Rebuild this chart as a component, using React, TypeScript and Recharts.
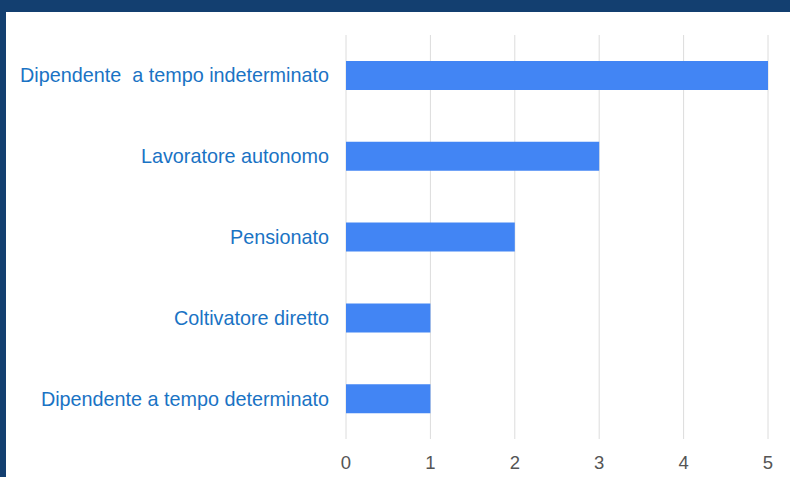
import React from 'react';
import { BarChart, Bar, XAxis, YAxis, CartesianGrid } from 'recharts';

const categories = [
  'Dipendente  a tempo indeterminato',
  'Lavoratore autonomo',
  'Pensionato',
  'Coltivatore diretto',
  'Dipendente a tempo determinato',
];
const counts = [5, 3, 2, 1, 1];
const xTicks = [0, 1, 2, 3, 4, 5];

const data = categories.map((c, i) => ({ name: c, value: counts[i] }));

const YTick = (props: any) => {
  const { x, y, payload } = props;
  return (
    <text
      x={x}
      y={y}
      dy="0.35em"
      textAnchor="end"
      fill="#1a73c4"
      fontSize={19.8}
      fontFamily="Liberation Sans, Arial, sans-serif"
      style={{ whiteSpace: 'pre' }}
    >
      {payload.value}
    </text>
  );
};

export default function App() {
  return (
    <div
      style={{
        position: 'fixed',
        left: 0,
        top: 0,
        width: 790,
        height: 477,
        background: '#133f70',
        overflow: 'hidden',
      }}
    >
      <div style={{ position: 'absolute', left: 6, top: 12, width: 784, height: 465, background: '#ffffff' }}>
        <BarChart
          width={784}
          height={465}
          data={data}
          layout="vertical"
          margin={{ top: 23, right: 22, bottom: 0, left: 0 }}
          barSize={29}
        >
          <CartesianGrid horizontal={false} vertical={true} stroke="#dcdcdc" />
          <XAxis
            type="number"
            domain={[0, 5]}
            ticks={xTicks}
            axisLine={false}
            tickLine={false}
            tickSize={0}
            tickMargin={17}
            height={38}
            tick={{ fill: '#555555', fontSize: 18.5, fontFamily: 'Liberation Sans, Arial, sans-serif' }}
          />
          <YAxis
            type="category"
            dataKey="name"
            width={340}
            axisLine={false}
            tickLine={false}
            tickSize={0}
            tickMargin={17}
            interval={0}
            tick={<YTick />}
          />
          <Bar dataKey="value" fill="#4285f4" isAnimationActive={false} />
        </BarChart>
      </div>
    </div>
  );
}
